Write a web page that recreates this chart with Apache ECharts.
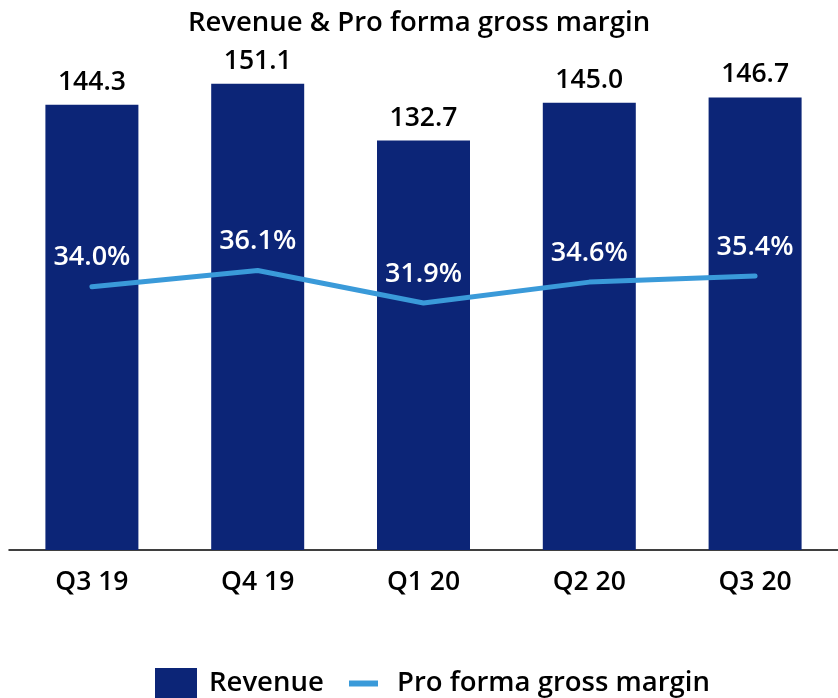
<!DOCTYPE html>
<html>
<head>
<meta charset="utf-8">
<script src="https://cdn.jsdelivr.net/npm/echarts@6/dist/echarts.min.js"></script>
<style>
  html, body { margin: 0; padding: 0; background: #fff; }
  #main { width: 838px; height: 698px; }
</style>
</head>
<body>
<div id="main"></div>
<script>
// data
var quarters = ["Q3 19", "Q4 19", "Q1 20", "Q2 20", "Q3 20"];
var revenue = [144.3, 151.1, 132.7, 145.0, 146.7];
var grossMargin = [34.0, 36.1, 31.9, 34.6, 35.4];

var FONT = "'Open Sans', 'Noto Sans', sans-serif";
var BAR = "#0c2577";
var LINE = "#3a9ad9";

var chart = echarts.init(document.getElementById("main"));

var option = {
  animation: false,
  title: {
    text: "Revenue & Pro forma gross margin",
    left: "center",
    top: 4,
    textStyle: { fontFamily: FONT, fontSize: 27.5, fontWeight: 600, color: "#000" }
  },
  legend: [
    {
      data: [{ name: "Revenue", icon: "rect" }],
      left: 150,
      top: 663,
      itemWidth: 42,
      itemHeight: 31,
      textStyle: { fontFamily: FONT, fontSize: 27.5, fontWeight: 600, color: "#000", lineHeight: 31, padding: [0, 0, 0, 7] }
    },
    {
      data: [{ name: "Pro forma gross margin", icon: "rect" }],
      left: 344,
      top: 663,
      itemWidth: 29,
      itemHeight: 6,
      textStyle: { fontFamily: FONT, fontSize: 27.5, fontWeight: 600, color: "#000", lineHeight: 31, padding: [0, 0, 0, 14] }
    }
  ],
  grid: { left: 9, right: 0, top: 54.5, height: 495.5 },
  xAxis: {
    type: "category",
    data: quarters,
    axisLine: { show: true, lineStyle: { color: "#000", width: 1.5 } },
    axisTick: { show: false },
    axisLabel: { fontFamily: FONT, fontSize: 26.5, fontWeight: 600, color: "#000", margin: 19 }
  },
  yAxis: [
    { type: "value", min: 0, max: 160.6, show: false, splitLine: { show: false } },
    { type: "value", min: 0, max: 64, show: false, splitLine: { show: false } }
  ],
  series: [
    {
      name: "Revenue",
      type: "bar",
      data: revenue,
      barWidth: 93,
      itemStyle: { color: BAR },
      label: {
        show: true,
        position: "top",
        distance: 9,
        formatter: function (p) { return p.value.toFixed(1); },
        fontFamily: FONT, fontSize: 26.5, fontWeight: 600, color: "#000"
      }
    },
    {
      name: "Pro forma gross margin",
      type: "line",
      yAxisIndex: 1,
      data: grossMargin,
      symbol: "circle",
      symbolSize: 2,
      showSymbol: true,
      lineStyle: { color: LINE, width: 5, cap: "round" },
      itemStyle: { color: LINE },
      z: 5,
      label: {
        show: true,
        position: "top",
        distance: 14,
        lineHeight: 28,
        formatter: function (p) { return p.value.toFixed(1) + "%"; },
        fontFamily: FONT, fontSize: 27, fontWeight: 600, color: "#fff"
      }
    }
  ]
};

chart.setOption(option);
</script>
</body>
</html>
